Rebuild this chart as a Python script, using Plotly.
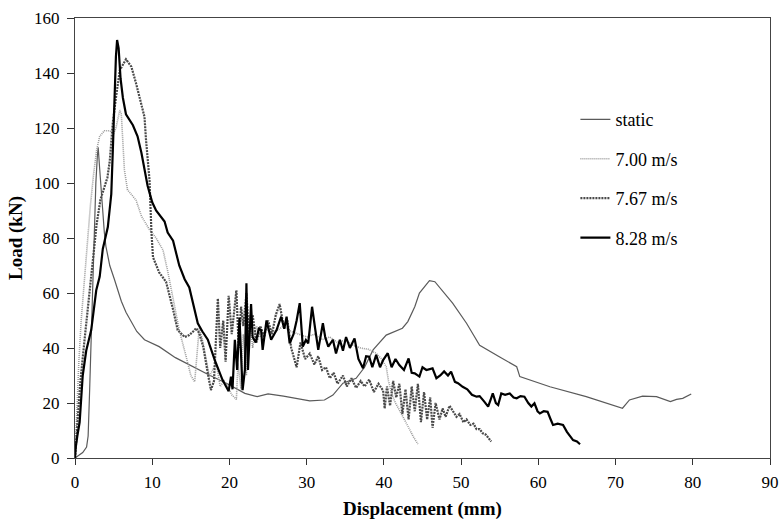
import plotly.graph_objects as go

# ---- data (displacement mm, load kN) ----
static_x = [0, 0.5, 1.0, 1.5, 1.7, 1.9, 2.1, 2.3, 2.5, 2.7, 2.9, 3.0, 3.2, 3.5, 3.8, 4.0, 4.5, 5.1, 6.0, 6.6, 8.0, 9.0,
            10.9, 13.0, 15.2, 17.5, 19.6, 20.4, 22.0, 23.6, 25.0, 27.0, 30.4, 32.3, 33.4, 34.7, 36.4, 37.5, 38.6, 40.3,
            42.4, 43.1, 44.0, 44.6, 45.9, 46.6, 47.7, 48.9, 50.7, 52.4, 55.0, 57.2, 57.6, 61.5, 66.2, 70.9, 71.8, 73.5,
            75.3, 77.1, 77.9, 78.7, 79.8]
static_y = [0, 1, 2, 4, 8, 25, 45, 65, 85, 100, 110, 113, 105, 92, 82, 77, 70, 65, 57, 53, 46, 43,
            40.5, 36.5, 33.2, 30, 27.2, 25.9, 23.5, 22.3, 23.3, 22.5, 20.8, 21.1, 22.9, 27.2, 29, 33, 39.3, 44.7,
            47.2, 49.6, 55, 60, 64.5, 64.1, 60.5, 56.3, 49, 41, 36.7, 33.2, 29.6, 25.9, 22.3, 18.1, 21.1, 22.5,
            22.3, 20.5, 21.3, 21.7, 23.3]

v700_x = [0, 0.2, 0.5, 0.8, 1.2, 1.6, 2.0, 2.4, 2.8, 3.2, 3.8, 4.5, 5.0, 5.3, 5.8, 6.0, 6.2, 6.4, 6.8, 7.9, 8.6, 9.65,
          10.5, 11.4, 12.0, 12.7, 13.5, 14.4, 15.0, 15.5, 16.1, 16.6, 17.0, 17.4, 18.0, 18.3, 18.8, 19.3, 19.8, 20.3,
          20.9, 21.1, 21.5, 21.8, 22.2, 22.6, 23.0, 23.5, 24.0, 25.0, 26.0, 27.0, 28.0, 29.0, 30.0, 31.0, 32.0, 33.0,
          34.0, 35.0, 36.0, 37.0, 38.0, 39.0, 39.7, 40.3, 40.6, 41.0, 41.5, 42.0, 42.5, 42.9, 43.4, 43.8, 44.4]
v700_y = [0, 15, 35, 50, 65, 80, 92, 103, 112, 117, 119, 119, 118, 120, 126.5, 125, 112, 104.7, 97.5, 93.8, 88, 83,
          80, 75.6, 68, 57.5, 46.5, 36.8, 30, 27.7, 47.7, 41.7, 35, 29.6, 33, 34.4, 26, 28, 25.9, 23,
          21.3, 34.4, 25, 45, 30, 52, 40, 48, 44, 47, 46, 48, 46, 45, 44, 45, 43, 44,
          42, 42.9, 41, 40, 39.5, 38.1, 36, 33.2, 28, 23.5, 20, 17.5, 15, 12.6, 10, 7.8, 5.1]

v767_x = [0, 0.3, 0.7, 1.2, 1.8, 2.3, 2.8, 3.3, 3.8, 4.2, 4.5, 4.9, 5.3, 5.8, 6.6, 7.3, 7.9, 8.6, 9.0, 9.2, 9.4, 9.65,
          9.9, 10.1, 10.9, 11.8, 12.7, 13.3, 14.2, 14.8, 15.3, 15.7, 16.1, 16.6, 17.2, 17.6, 18.0, 18.3, 18.5, 18.8,
          19.2, 19.5, 19.9, 20.3, 20.9, 21.2, 21.5, 21.8, 22.2, 22.5, 23.0, 23.5, 24.0, 24.5, 25.0, 25.5, 26.0, 26.5,
          27.0, 27.5, 28.0, 28.7, 29.2, 29.8, 30.4, 31.0, 31.5, 32.0, 32.5, 33.0, 33.5, 34.0, 34.7, 35.2, 35.8, 36.4,
          37.0, 37.5, 38.1, 38.7, 39.3, 39.9, 40.1, 40.4, 40.8, 41.2, 41.6, 42.0, 42.4, 42.8, 43.2, 43.6, 44.0, 44.4,
          44.8, 45.2, 45.6, 46.0, 46.3, 46.7, 47.2, 47.6, 48.0, 48.5, 48.9, 49.4, 49.8, 50.3, 50.7, 51.2, 51.6, 52.0,
          52.4, 52.8, 53.2, 53.6, 53.9]
v767_y = [0, 12, 28, 42, 58, 72, 85, 94, 99, 102, 108, 122, 131, 141, 145, 142.3, 136.3, 129, 124, 115.6, 109.6, 101,
          82, 73, 67.5, 64, 54, 46.5, 44, 44.7, 46, 47.2, 45.3, 40.5, 30.8, 24.7, 28, 45, 58, 40,
          50, 35, 59, 45, 61, 40, 55, 48, 60, 45, 52, 42, 48, 44, 50, 45, 52, 56,
          48, 50, 40, 33, 42, 36, 38, 34, 37, 32, 33, 29, 31, 27, 30, 26, 29, 25.5,
          28, 26, 28.5, 24, 27, 24.5, 18, 26, 19, 28, 22, 27, 16, 25, 14, 26, 17, 27,
          13, 24, 14, 22, 11, 20, 14, 18, 15, 19, 17, 15, 16, 13, 14, 12, 12.5, 10.5,
          10.5, 9, 8.5, 7, 6]

v828_x = [0, 0.1, 0.3, 0.6, 1.0, 1.45, 2.1, 2.75, 3.2, 3.6, 4.25, 4.7, 4.9, 5.1, 5.3, 5.45, 5.65, 5.9, 6.2, 6.6, 7.0,
          7.5, 8.1, 8.6, 9.4, 10.0, 10.5, 11.6, 12.0, 12.7, 13.5, 14.2, 14.8, 15.4, 15.9, 16.5, 17.2, 18.1, 19.1,
          19.9, 20.2, 20.4, 20.7, 21.0, 21.3, 21.7, 22.0, 22.2, 22.4, 22.8, 23.0, 23.4, 23.8, 24.1, 24.3, 24.8, 25.4,
          26.1, 26.7, 27.1, 27.4, 27.8, 28.3, 28.7, 29.1, 29.5, 29.9, 30.2, 30.7, 31.1, 31.5, 32.1, 32.4, 32.8, 33.4,
          33.8, 34.3, 34.7, 35.1, 35.6, 36.2, 36.7, 37.3, 37.7, 38.1, 38.5, 39.0, 39.5, 39.9, 40.5, 41.0, 41.5, 42.0,
          42.6, 43.2, 43.6, 44.0, 44.6, 45.0, 45.5, 46.3, 46.8, 47.3, 47.8, 48.3, 48.7, 49.2, 49.6, 50.2, 50.8, 51.4,
          52.0, 52.4, 53.0, 53.5, 53.8, 54.1, 54.5, 54.8, 55.2, 55.7, 56.3, 56.8, 57.2, 57.7, 58.2, 58.7, 59.1, 59.5,
          59.9, 60.2, 60.7, 61.2, 61.6, 61.9, 62.5, 63.2, 63.7, 64.1, 64.5, 65.0, 65.4]
v828_y = [0, 4, 8, 13, 30, 39, 46.5, 61, 66, 76, 84, 96, 112, 130, 146, 152, 149, 138, 131, 125, 123,
          121, 117, 111, 99, 93, 90, 86, 82, 79, 70, 65, 62, 55, 49, 46, 43, 35.6, 28.4,
          24.3, 29.6, 25, 43, 32, 51, 24.7, 32, 63.5, 32, 56, 44, 42, 47, 46.5, 39.3, 50, 43,
          46.5, 51.4, 47, 51.4, 41.7, 45, 50, 56.3, 40.5, 42.9, 41.7, 55, 47, 39.3, 49, 44, 40.5, 43,
          38, 43, 39, 44, 40, 43.5, 36, 32.6, 37, 36.8, 33, 37.5, 33, 35.6, 38.1, 33, 36, 33.8,
          32, 36.2, 31, 30.8, 29.6, 33, 32, 32.6, 29, 30, 31.5, 30, 31.4, 27.7, 27.2, 25.9, 25, 23,
          22.3, 22.5, 20.5, 18.7, 21, 23.5, 20, 19.3, 23.5, 23, 23.5, 22, 21.7, 22.5, 22.3, 20, 18.7, 19.9,
          17, 16.2, 17, 16.8, 14, 12, 12.5, 12, 9.5, 8, 6.5, 6, 5]

series_names = ["static", "7.00 m/s", "7.67 m/s", "8.28 m/s"]
x_ticks = [0, 10, 20, 30, 40, 50, 60, 70, 80, 90]
y_ticks = [0, 20, 40, 60, 80, 100, 120, 140, 160]
x_title = "Displacement (mm)"
y_title = "Load (kN)"

FONT = "Liberation Serif, Times New Roman, serif"

fig = go.Figure()
styles = [
    dict(color="#5a5a5a", width=1.2, dash="solid"),
    dict(color="#9a9a9a", width=1.6, dash="1px,1px"),
    dict(color="#4a4a4a", width=2.2, dash="2px,1px"),
    dict(color="#000000", width=2.2, dash="solid"),
]
data = [(static_x, static_y), (v700_x, v700_y), (v767_x, v767_y), (v828_x, v828_y)]
for i, ((xs, ys), name, st) in enumerate(zip(data, series_names, styles)):
    fig.add_trace(go.Scatter(x=xs, y=ys, mode="lines", name=name, line=st,
                             legendgroup=f"g{i}"))

fig.add_annotation(text=f"<b>{x_title}</b>", xref="paper", yref="paper",
                   x=0.5, y=-0.116, xanchor="center", yanchor="middle", showarrow=False,
                   font=dict(family=FONT, size=19, color="black"))

fig.update_layout(
    width=779, height=524,
    margin=dict(l=75, r=9, t=18, b=66),
    paper_bgcolor="white", plot_bgcolor="white",
    font=dict(family=FONT, size=17, color="black"),
    showlegend=True,
    legend=dict(x=0.72, y=0.811, xanchor="left", yanchor="top",
                font=dict(family=FONT, size=18, color="black"),
                bgcolor="rgba(0,0,0,0)", tracegroupgap=13),
    xaxis=dict(range=[0, 90], tickvals=x_ticks, ticks="outside", ticklen=6, tickcolor="#333",
               showgrid=False, zeroline=False, showline=True, linecolor="#444", linewidth=1, mirror=True,
               ticklabelstandoff=3, automargin=False,
               tickfont=dict(size=17)),
    yaxis=dict(range=[0, 160], tickvals=y_ticks, ticks="outside", ticklen=7, tickcolor="#333",
               showgrid=False, zeroline=False, showline=True, linecolor="#444", linewidth=1, mirror=True,
               ticklabelstandoff=4, automargin=False,
               title=dict(text=f"<b>{y_title}</b>", font=dict(size=19), standoff=6),
               tickfont=dict(size=17)),
)

fig.write_html("out.html")
